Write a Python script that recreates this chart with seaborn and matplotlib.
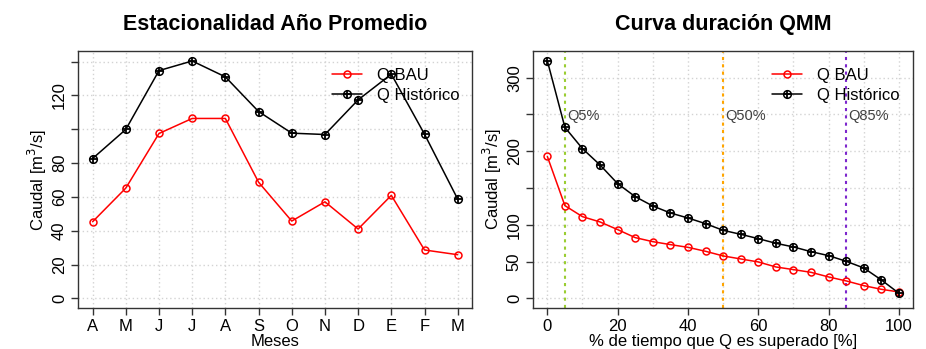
import matplotlib
matplotlib.use("Agg")
import matplotlib.pyplot as plt
import seaborn as sns
import numpy as np
import pandas as pd
from matplotlib.lines import Line2D
from matplotlib.legend_handler import HandlerTuple

# ---- data ----
months = ["A", "M", "J", "J", "A", "S", "O", "N", "D", "E", "F", "M"]
q_hist_month = [82.7, 99.9, 134.7, 140.4, 131.0, 110.5, 97.7, 96.9, 117.4, 132.6, 97.1, 58.7]
q_bau_month = [45.3, 65.2, 97.5, 106.4, 106.4, 68.7, 45.7, 57.1, 41.0, 60.9, 28.6, 25.8]

pct = [0, 5, 10, 15, 20, 25, 30, 35, 40, 45, 50, 55, 60, 65, 70, 75, 80, 85, 90, 95, 100]
q_hist_dur = [323.1, 232.5, 203.5, 181.3, 155.9, 138.2, 125.5, 116.0, 109.2, 101.5, 92.4,
              87.0, 81.1, 74.8, 69.8, 63.4, 58.0, 50.3, 41.2, 24.9, 6.8]
q_bau_dur = [193.0, 126.0, 111.0, 103.8, 93.4, 82.5, 77.0, 73.0, 69.3, 63.9, 57.6,
             53.5, 49.4, 42.6, 39.0, 35.3, 29.0, 23.6, 17.2, 12.2, 8.6]

q_marks = [5, 50, 85]
q_labels = ["Q5%", "Q50%", "Q85%"]
q_colors = ["#9ACD32", "#FFA500", "#7D26CD"]

left_yticks = [0, 20, 40, 60, 80, 100, 120, 140]
left_ylabels = ["0", "20", "40", "60", "80", "", "120", ""]
right_xticks = [0, 20, 40, 60, 80, 100]
right_yticks = [0, 50, 100, 150, 200, 250, 300]
right_ylabels = ["0", "50", "100", "", "200", "", "300"]

# ---- style ----
sns.set_theme(style="ticks")
plt.rcParams["font.family"] = ["Liberation Sans", "DejaVu Sans"]
plt.rcParams["axes.linewidth"] = 1.0
for k in ("text.color", "axes.labelcolor", "xtick.labelcolor", "ytick.labelcolor"):
    plt.rcParams[k] = "black"

fig = plt.figure(figsize=(9.26, 3.49), dpi=100)
axL = fig.add_axes([78 / 926, 1 - 308.3 / 349, 394.3 / 926, 257.3 / 349])
axR = fig.add_axes([533 / 926, 1 - 307.7 / 349, 379.7 / 926, 256.7 / 349])

red = "#FF0000"
blk = "#000000"
grid_kw = dict(color="#D3D3D3", linestyle=(0, (1, 2)), linewidth=1.0, zorder=0)
fs = 12


def draw_series(ax, x, y, color, hist):
    df = pd.DataFrame({"x": x, "y": y})
    sns.lineplot(data=df, x="x", y="y", ax=ax, color=color, linewidth=1.1,
                 marker="o", markersize=5 if not hist else 5.5,
                 markerfacecolor="none", markeredgecolor=color,
                 markeredgewidth=1.1, estimator=None, sort=False, zorder=3)
    if hist:
        sns.scatterplot(data=df, x="x", y="y", ax=ax, marker="+", s=32,
                        color=color, linewidth=1.3, zorder=4)


def make_legend(ax, anchor):
    h_bau = Line2D([], [], color=red, lw=1.1, marker="o", markersize=5,
                   markerfacecolor="none", markeredgewidth=1.1)
    h_hist_o = Line2D([], [], color=blk, lw=1.1, marker="o", markersize=5.5,
                      markerfacecolor="none", markeredgewidth=1.1)
    h_hist_p = Line2D([], [], color=blk, lw=0, marker="+", markersize=5.7,
                      markeredgewidth=1.3)
    ax.legend([h_bau, (h_hist_o, h_hist_p)], ["Q BAU", "Q Histórico"],
              handler_map={tuple: HandlerTuple(ndivide=1, pad=0)},
              loc="upper left", bbox_to_anchor=anchor, frameon=False,
              fontsize=fs, handlelength=1.8, handletextpad=0.9,
              labelspacing=0.32, borderpad=0, borderaxespad=0)


# ---- left: seasonality ----
xpos = list(range(1, len(months) + 1))
for v in xpos:
    axL.axvline(v, **grid_kw)
for v in left_yticks:
    axL.axhline(v, **grid_kw)
draw_series(axL, xpos, q_bau_month, red, False)
draw_series(axL, xpos, q_hist_month, blk, True)
axL.set_xlim(0.56, 12.44)
axL.set_ylim(-5.9, 146.3)
axL.set_xticks(xpos)
axL.set_xticklabels(months)
axL.set_yticks(left_yticks)
axL.set_yticklabels(left_ylabels, rotation=90, va="center")
axL.set_xlabel("Meses", fontsize=fs, labelpad=0)
axL.set_ylabel("Caudal [m$^3$/s]", fontsize=fs, labelpad=2)
axL.set_title("Estacionalidad Año Promedio", fontsize=15.5, fontweight="bold", pad=15)
make_legend(axL, (0.643, 0.935))

# ---- right: duration curve ----
for v in range(0, 101, 10):
    axR.axvline(v, **grid_kw)
for v in right_yticks:
    axR.axhline(v, **grid_kw)
for m, lab, c in zip(q_marks, q_labels, q_colors):
    axR.axvline(m, color=c, linestyle=(0, (1.5, 2)), linewidth=1.5, zorder=1)
    axR.text(m + 0.7, 248, lab, fontsize=10.5, color="#404040", ha="left", va="center")
draw_series(axR, pct, q_bau_dur, red, False)
draw_series(axR, pct, q_hist_dur, blk, True)
axR.set_xlim(-4.07, 103.9)
axR.set_ylim(-12.8, 336.3)
axR.set_xticks(right_xticks)
axR.set_yticks(right_yticks)
axR.set_yticklabels(right_ylabels, rotation=90, va="center")
axR.set_xlabel("% de tiempo que Q es superado [%]", fontsize=fs, labelpad=0)
axR.set_ylabel("Caudal [m$^3$/s]", fontsize=fs, labelpad=2)
axR.set_title("Curva duración QMM", fontsize=15.5, fontweight="bold", pad=15)
make_legend(axR, (0.629, 0.935))

for ax in (axL, axR):
    for s in ax.spines.values():
        s.set_visible(True)
        s.set_color("#333333")
    ax.tick_params(axis="both", labelsize=fs, length=5, width=1.0, color="#333333",
                   pad=3, direction="out")

fig.savefig("out.png", dpi=100)
